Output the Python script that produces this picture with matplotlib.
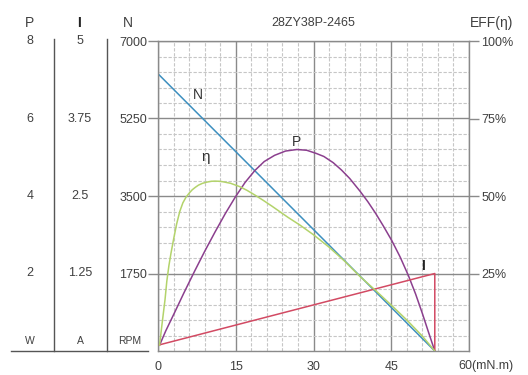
import matplotlib
matplotlib.use('Agg')
import matplotlib.pyplot as plt
from matplotlib import transforms
from matplotlib.lines import Line2D
from matplotlib.ticker import MultipleLocator

plt.rcParams['font.family'] = ['Liberation Sans', 'DejaVu Sans']

# torque axis (mN.m)
x_ticks = [0, 15, 30, 45, 60]

# speed N (RPM)
n_torque = [0, 53.4]
n_speed = [6260, 0]

# current I (A), with the drop line at stall
i_torque = [0.3, 53.4, 53.4]
i_amp = [0.1, 1.25, 0]

# output power P (W)
p_torque = [0.3, 1.5, 3.3, 5.0, 7.1, 9.0, 11, 13, 14.9, 16.8, 18.7, 20.5,
            22.5, 24.6, 26.8, 28.7, 30.5, 32, 33.8, 35.4, 37, 39, 40.5, 42,
            43.5, 45.1, 46.7, 48.3, 49.7, 51, 52.2, 53.4]
p_watt = [0.15, 0.52, 1.02, 1.5, 2.07, 2.57, 3.07, 3.55, 3.97, 4.35, 4.66,
          4.89, 5.05, 5.16, 5.2, 5.18, 5.1, 5.02, 4.86, 4.67, 4.45, 4.12,
          3.85, 3.55, 3.22, 2.85, 2.43, 1.95, 1.47, 0.97, 0.48, 0]

# efficiency (%)
e_torque = [0.3, 0.8, 1.35, 1.7, 2.1, 2.5, 3.0, 3.6, 4.2, 4.8, 5.4, 6.0,
            6.6, 7.2, 7.8, 8.6, 9.5, 10.3, 11.0, 11.8, 12.5, 14.0, 15.8,
            17.2, 18.7, 20.3, 22, 25, 27.4, 30, 33, 36, 39, 42, 45, 48, 51, 53.4]
e_pct = [1.9, 9, 16.5, 22.5, 27.5, 31.5, 36, 41, 45, 47.8, 49.6, 50.9,
         52, 52.8, 53.5, 54.1, 54.5, 54.75, 54.8, 54.75, 54.6, 54.1, 53.0,
         51.8, 50.3, 48.6, 46.7, 43.2, 40.6, 37.5, 33.5, 29, 24, 19.5, 14.8,
         10, 4.8, 0]

# tick labels of the left columns and the right axis
n_ticks = [1750, 3500, 5250, 7000]
p_ticks = [2, 4, 6, 8]
i_ticks = [1.25, 2.5, 3.75, 5]
i_labels = ['1.25', '2.5', '3.75', '5']
e_ticks = [25, 50, 75, 100]

W, H = 528, 375
fig = plt.figure(figsize=(W / 100, H / 100), dpi=100)
ax = fig.add_axes([158 / W, 1 - 351 / H, (469 - 158) / W, (351 - 41) / H])

txt = '#404040'
fs = 9
ax.set_xlim(0, 60)
ax.set_ylim(0, 7000)
ax.set_xticks(x_ticks)
ax.set_xticklabels(['0', '15', '30', '45', ''])
ax.set_yticks(n_ticks)
ax.xaxis.set_minor_locator(MultipleLocator(3))
ax.yaxis.set_minor_locator(MultipleLocator(350))
ax.grid(which='major', color='#8a8a8a', lw=1.0)
ax.grid(which='minor', color='#c6c6c6', lw=0.8, ls=(0, (3, 1.5)))
ax.set_axisbelow(True)
ax.tick_params(axis='x', which='both', length=0, pad=7, labelsize=fs, colors=txt)
ax.tick_params(axis='y', which='major', length=7, width=1, color='#8a8a8a',
               pad=1, labelsize=fs, colors=txt)
ax.tick_params(axis='y', which='minor', length=0)
for s in ax.spines.values():
    s.set_color('#8a8a8a')
    s.set_linewidth(1.0)
ax.text((458 - 158) / 311, -15 / 310, '60(mN.m)', transform=ax.transAxes,
        ha='left', va='center', fontsize=fs, color=txt)

ax_p = ax.twinx()
ax_p.set_ylim(0, 8)
ax_i = ax.twinx()
ax_i.set_ylim(0, 5)
ax_e = ax.twinx()
ax_e.set_ylim(0, 100)
for a in (ax_p, ax_i):
    a.set_yticks([])
    for s in a.spines.values():
        s.set_visible(False)
ax_e.set_yticks(e_ticks)
ax_e.set_yticklabels([f'{v}%' for v in e_ticks])
ax_e.tick_params(axis='y', length=7, width=1, color='#8a8a8a', pad=2,
                 labelsize=fs, colors=txt)
for s in ax_e.spines.values():
    s.set_visible(False)

lw = 1.1
ax_e.plot(e_torque, e_pct, color='#b3d36b', lw=lw)
ax.plot(n_torque, n_speed, color='#3d8fbf', lw=lw)
ax_p.plot(p_torque, p_watt, color='#8b3f8e', lw=lw)
ax_i.plot(i_torque, i_amp, color='#d24a63', lw=lw)

# curve names
ax.text(7.6, 5780, 'N', fontsize=10, color='#333333', ha='center', va='center')
ax_e.text(9.1, 62.5, 'η', fontsize=11, color='#333333', ha='center', va='center')
ax_p.text(26.8, 5.39, 'P', fontsize=10, color='#333333', ha='center', va='center')
ax_i.text(51.2, 1.37, 'I', fontsize=10, color='#222222', ha='center', va='center',
          fontweight='bold')

# left columns
tp = transforms.blended_transform_factory(fig.transFigure, ax_p.transData)
ti = transforms.blended_transform_factory(fig.transFigure, ax_i.transData)
for v in p_ticks:
    fig.text(30 / W, v, str(v), transform=tp, ha='center', va='center',
             fontsize=fs, color=txt)
for v, lab in zip(i_ticks, i_labels):
    fig.text(80 / W, v, lab, transform=ti, ha='center', va='center',
             fontsize=fs, color=txt)

top = 1 - 23 / H
fig.text(30 / W, top, 'P', ha='center', va='center', fontsize=10, color=txt)
fig.text(79 / W, top, 'I', ha='center', va='center', fontsize=10, color='#222222',
         fontweight='bold')
fig.text(128 / W, top, 'N', ha='center', va='center', fontsize=10, color=txt)
fig.text(313 / W, top, '28ZY38P-2465', ha='center', va='center', fontsize=fs,
         color=txt)
fig.text(513 / W, top, 'EFF(η)', ha='right', va='center', fontsize=10, color=txt)

bot = 1 - 341 / H
fig.text(30 / W, bot, 'W', ha='center', va='center', fontsize=7.5, color=txt)
fig.text(80 / W, bot, 'A', ha='center', va='center', fontsize=7.5, color=txt)
fig.text(130 / W, bot, 'RPM', ha='center', va='center', fontsize=7.5, color=txt)

for xv in (54, 107):
    fig.add_artist(Line2D([xv / W, xv / W], [1 - 39 / H, 1 - 351 / H],
                          color='#555555', lw=1.0))
fig.add_artist(Line2D([11 / W, 148 / W], [1 - 351 / H, 1 - 351 / H],
                      color='#555555', lw=1.0))

fig.savefig('out.png', dpi=100)
